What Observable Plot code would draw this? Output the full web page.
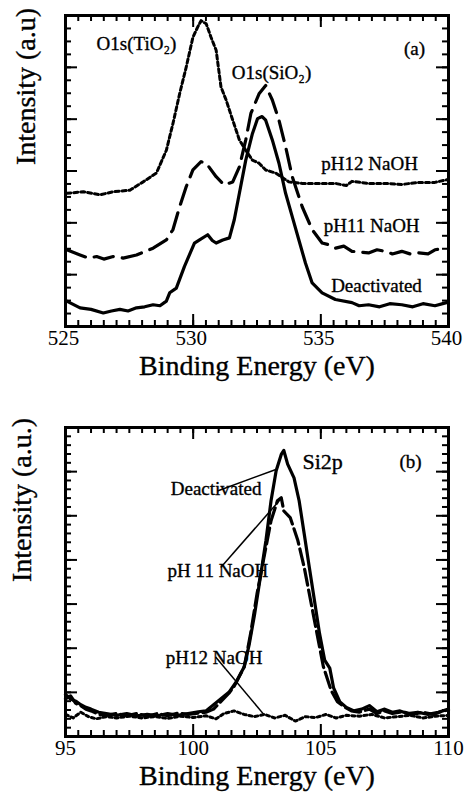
<!DOCTYPE html>
<html><head><meta charset="utf-8">
<script src="https://cdn.jsdelivr.net/npm/d3@7"></script>
<script src="https://cdn.jsdelivr.net/npm/@observablehq/plot@0.6"></script>
<style>
html,body{margin:0;padding:0;background:#fff;}
#chart{width:465px;height:802px;overflow:hidden;}
svg{display:block;}
svg text{font-family:"Liberation Serif","Times New Roman",serif !important;}
</style></head><body><div id="chart"></div>
<script>
// ---------- Panel (a): O1s ----------
const a_deactivated = [
  [525.05,0.49],[525.57,0.36],[526.0,0.33],[526.48,0.26],[526.8,0.30],[527.13,0.33],[527.45,0.30],[527.78,0.36],[528.1,0.38],[528.43,0.42],[528.7,0.40],[528.95,0.49],
  [529.08,0.65],[529.34,0.74],[529.66,1.16],[530.05,1.61],[530.25,1.67],[530.57,1.77],[530.75,1.66],[530.9,1.61],[531.16,1.67],[531.42,1.71],
  [531.61,2.06],[531.81,2.57],[532.06,3.21],[532.32,3.72],[532.52,4.01],[532.7,4.05],[532.84,3.98],[533.1,3.60],[533.36,3.15],[533.62,2.57],
  [533.88,2.12],[534.14,1.67],[534.4,1.22],[534.66,0.84],[535.05,0.65],[535.57,0.52],[536.22,0.46],[536.5,0.40],[536.87,0.42],[537.3,0.38],
  [537.7,0.44],[538.17,0.42],[538.6,0.38],[539.0,0.44],[539.47,0.40],[539.92,0.46]
];
const a_ph11 = [
  [525.05,1.48],[525.57,1.38],[525.9,1.32],[526.22,1.35],[526.5,1.30],[526.87,1.35],[527.26,1.32],[527.78,1.38],[528.43,1.51],[528.95,1.67],
  [529.21,1.87],[529.47,2.31],[529.73,2.70],[529.99,3.02],[530.31,3.18],[530.51,3.15],[530.9,2.89],[531.22,2.73],[531.55,2.79],
  [531.81,3.08],[532.06,3.60],[532.26,4.11],[532.58,4.49],[532.84,4.65],[533.1,4.37],[533.36,3.98],[533.62,3.47],[533.88,2.89],
  [534.27,2.31],[534.66,1.87],[535.05,1.61],[535.3,1.58],[535.57,1.51],[535.9,1.55],[536.22,1.45],[536.87,1.42],[537.2,1.48],[537.52,1.45],
  [537.8,1.40],[538.17,1.45],[538.5,1.40],[538.82,1.42],[539.2,1.40],[539.47,1.48],[539.92,1.51]
];
const a_ph12 = [
  [525.05,2.57],[525.7,2.60],[526.35,2.54],[526.87,2.60],[527.52,2.63],[528.04,2.79],[528.56,2.96],[528.95,3.40],[529.21,3.92],
  [529.47,4.49],[529.73,5.01],[529.99,5.58],[530.18,5.78],[530.31,5.90],[530.51,5.84],[530.7,5.58],[530.9,5.33],[531.09,4.62],
  [531.29,4.37],[531.55,3.98],[531.81,3.60],[532.06,3.40],[532.32,3.21],[532.58,3.15],[532.84,3.02],[533.23,2.96],[533.75,2.79],
  [534.27,2.76],[534.92,2.76],[535.57,2.76],[536.0,2.72],[536.22,2.80],[536.87,2.76],[537.52,2.76],[538.17,2.74],[538.82,2.78],[539.47,2.78],[539.92,2.83]
];
const a_labels = [
  {x: 527.78, y: 5.46, text: "O1s(TiO\u2082)", weight: "normal"},
  {x: 533.07, y: 4.90, text: "O1s(SiO\u2082)", weight: "normal"},
  {x: 538.67, y: 5.36, text: "(a)", weight: "normal"},
  {x: 536.91, y: 3.14, text: "pH12 NaOH", weight: "normal"},
  {x: 536.99, y: 1.95, text: "pH11 NaOH", weight: "normal"},
  {x: 537.18, y: 0.79, text: "Deactivated", weight: "bold"}
];
const a_xTicks = [525, 530, 535, 540];
const a_xMinor = d3.range(525, 540.01, 0.5);
const a_yMajor = d3.range(0, 6.01, 1);
const a_yMinor = d3.range(0, 6.01, 0.25);

// ---------- Panel (b): Si2p ----------
const b_deactivated = [
  [95.0,0.95],[95.2,0.85],[95.4,0.80],[95.6,0.72],[95.8,0.66],[96.0,0.62],[96.3,0.55],[96.6,0.52],[97.0,0.48],[97.4,0.52],[97.8,0.47],
  [98.2,0.50],[98.6,0.47],[99.0,0.52],[99.4,0.48],[99.8,0.52],[100.2,0.56],[100.5,0.58],[100.8,0.72],[101.1,0.86],[101.4,1.00],
  [101.7,1.25],[102.0,1.58],[102.2,2.10],[102.4,2.75],[102.65,3.68],[102.85,4.44],[103.05,5.34],[103.25,6.02],[103.45,6.39],
  [103.55,6.48],[103.7,6.17],[103.95,5.86],[104.15,5.34],[104.35,4.59],[104.55,3.83],[104.75,3.08],[104.95,2.33],[105.15,1.73],
  [105.35,1.55],[105.5,1.10],[105.75,0.78],[106.0,0.66],[106.3,0.58],[106.6,0.62],[106.9,0.70],[107.2,0.56],[107.5,0.62],
  [107.8,0.55],[108.1,0.58],[108.4,0.52],[108.8,0.55],[109.2,0.50],[109.6,0.55],[110.0,0.62]
];
const b_ph11 = [
  [95.0,0.85],[95.2,0.92],[95.4,0.75],[95.6,0.70],[95.8,0.62],[96.0,0.58],[96.3,0.50],[96.6,0.48],[97.0,0.52],[97.4,0.47],[97.8,0.52],
  [98.2,0.46],[98.6,0.52],[99.0,0.47],[99.4,0.53],[99.8,0.50],[100.2,0.53],[100.5,0.55],[100.8,0.62],[101.1,0.80],[101.4,0.98],
  [101.6,1.13],[102.0,1.58],[102.25,2.33],[102.5,3.23],[102.8,4.14],[103.05,4.89],[103.3,5.34],[103.45,5.41],[103.55,5.11],
  [103.8,4.96],[104.1,4.44],[104.35,3.83],[104.6,3.08],[104.85,2.33],[105.1,1.58],[105.4,1.05],[105.65,0.79],[105.9,0.68],
  [106.2,0.58],[106.5,0.55],[106.9,0.62],[107.2,0.52],[107.5,0.58],[107.8,0.52],[108.2,0.56],[108.6,0.50],[109.0,0.55],
  [109.4,0.50],[109.8,0.58],[110.0,0.60]
];
const b_ph12 = [
  [95.0,0.50],[95.3,0.42],[95.6,0.55],[95.9,0.45],[96.2,0.40],[96.6,0.45],[97.0,0.42],[97.5,0.46],[98.0,0.42],[98.5,0.45],
  [99.0,0.41],[99.5,0.46],[100.0,0.43],[100.5,0.47],[100.9,0.40],[101.2,0.52],[101.6,0.58],[102.0,0.50],[102.4,0.45],[102.8,0.50],
  [103.2,0.42],[103.6,0.48],[104.0,0.35],[104.4,0.45],[104.8,0.43],[105.2,0.50],[105.6,0.42],[106.0,0.48],[106.5,0.46],[107.0,0.50],
  [107.5,0.42],[108.0,0.45],[108.5,0.48],[109.0,0.42],[109.5,0.46],[110.0,0.48]
];
const b_labels = [
  {x: 105.07, y: 6.21, text: "Si2p", anchor: "middle", size: 22, weight: "normal"},
  {x: 108.51, y: 6.21, text: "(b)", anchor: "middle", size: 19, weight: "normal"},
  {x: 100.90, y: 5.60, text: "Deactivated", anchor: "end", size: 19, weight: "bold"},
  {x: 100.97, y: 3.76, text: "pH 11 NaOH", anchor: "end", size: 19, weight: "normal"},
  {x: 100.82, y: 1.77, text: "pH12 NaOH", anchor: "end", size: 19, weight: "normal"}
];
const b_leaders = [
  {x1: 100.95, y1: 5.56, x2: 103.24, y2: 6.05},
  {x1: 101.08, y1: 3.83, x2: 103.37, y2: 5.34},
  {x1: 100.88, y1: 1.80, x2: 102.78, y2: 0.49}
];
const b_xTicks = [95, 100, 105, 110];
const b_xMinor = d3.range(95, 110.01, 0.5);
const b_yMajor = d3.range(0, 7.01, 1);
const b_yMinor = d3.range(0, 7.01, 0.2);

const FONT = '"Liberation Serif", "Times New Roman", serif';
const TXT = {fill: "black", stroke: "black", strokeWidth: 0.35, fontFamily: FONT};

function frameTicks(opts) {
  const {innerW, innerH, xMajor, xMinor, yMajor, yMinor} = opts;
  const M = 12, m = 6, sw = 2;
  return [
    Plot.tickX(xMinor, {x: d => d, insetTop: innerH - m, strokeWidth: sw}),
    Plot.tickX(xMinor, {x: d => d, insetBottom: innerH - m, strokeWidth: sw}),
    Plot.tickX(xMajor, {x: d => d, insetTop: innerH - M, strokeWidth: sw}),
    Plot.tickX(xMajor, {x: d => d, insetBottom: innerH - M, strokeWidth: sw}),
    Plot.tickY(yMinor, {y: d => d, insetRight: innerW - m, strokeWidth: sw}),
    Plot.tickY(yMinor, {y: d => d, insetLeft: innerW - m, strokeWidth: sw}),
    Plot.tickY(yMajor, {y: d => d, insetRight: innerW - M, strokeWidth: sw}),
    Plot.tickY(yMajor, {y: d => d, insetLeft: innerW - M, strokeWidth: sw})
  ];
}

// Panel a
{
  const W = 465, H = 400, mt = 15, mb = 74, ml = 65, mr = 17;
  const innerW = W - ml - mr, innerH = H - mt - mb;
  const p = Plot.plot({
    width: W, height: H, marginTop: mt, marginBottom: mb, marginLeft: ml, marginRight: mr,
    style: {fontFamily: FONT, fontSize: "21px", color: "black", background: "white"},
    x: {domain: [525, 540], label: null},
    y: {domain: [0, 6], label: null},
    marks: [
      Plot.axisX(a_xTicks, {tickSize: 0, tickPadding: 4, fontSize: 21, dx: -2, tickFormat: d => String(d)}),
      Plot.axisY({ticks: []}),
      ...frameTicks({innerW, innerH, xMajor: a_xTicks, xMinor: a_xMinor, yMajor: a_yMajor, yMinor: a_yMinor}),
      Plot.line(a_ph12, {x: d => d[0], y: d => d[1], stroke: "black", strokeWidth: 3, strokeDasharray: "4,3"}),
      Plot.line(a_ph11, {x: d => d[0], y: d => d[1], stroke: "black", strokeWidth: 3.2, strokeDasharray: "20,9"}),
      Plot.line(a_deactivated, {x: d => d[0], y: d => d[1], stroke: "black", strokeWidth: 3.2}),
      Plot.text(a_labels, {x: "x", y: "y", text: "text", fontSize: 19, fontWeight: d => d.weight, ...TXT}),
      Plot.frame({stroke: "black", strokeWidth: 3}),
      Plot.text(["Binding Energy (eV)"], {frameAnchor: "bottom", dy: 48, fontSize: 28, ...TXT}),
      Plot.text(["Intensity (a.u)"], {frameAnchor: "left", rotate: -90, dx: -39, dy: -6, fontSize: 28, ...TXT})
    ]
  });
  document.getElementById("chart").append(p);
}

// Panel b
{
  const W = 465, H = 402, mt = 27, mb = 66, ml = 65, mr = 17;
  const innerW = W - ml - mr, innerH = H - mt - mb;
  const p = Plot.plot({
    width: W, height: H, marginTop: mt, marginBottom: mb, marginLeft: ml, marginRight: mr,
    style: {fontFamily: FONT, fontSize: "21px", color: "black", background: "white"},
    x: {domain: [95, 110], label: null},
    y: {domain: [0, 7], label: null},
    marks: [
      Plot.axisX(b_xTicks, {tickSize: 0, tickPadding: 4, fontSize: 21, tickFormat: d => String(d)}),
      Plot.axisY({ticks: []}),
      ...frameTicks({innerW, innerH, xMajor: b_xTicks, xMinor: b_xMinor, yMajor: b_yMajor, yMinor: b_yMinor}),
      Plot.line(b_ph12, {x: d => d[0], y: d => d[1], stroke: "black", strokeWidth: 3, strokeDasharray: "3,3"}),
      Plot.line(b_ph11, {x: d => d[0], y: d => d[1], stroke: "black", strokeWidth: 3.2, strokeDasharray: "16,5"}),
      Plot.line(b_deactivated, {x: d => d[0], y: d => d[1], stroke: "black", strokeWidth: 3.2}),
      Plot.link(b_leaders, {x1: "x1", y1: "y1", x2: "x2", y2: "y2", stroke: "black", strokeWidth: 1.5}),
      Plot.text(b_labels, {x: "x", y: "y", text: "text", textAnchor: d => d.anchor, fontSize: d => d.size, fontWeight: d => d.weight, ...TXT}),
      Plot.frame({stroke: "black", strokeWidth: 3}),
      Plot.text(["Binding Energy (eV)"], {frameAnchor: "bottom", dy: 48, fontSize: 28, ...TXT}),
      Plot.text(["Intensity (a.u.)"], {frameAnchor: "left", rotate: -90, dx: -43, fontSize: 28, ...TXT})
    ]
  });
  document.getElementById("chart").append(p);
}
</script></body></html>
